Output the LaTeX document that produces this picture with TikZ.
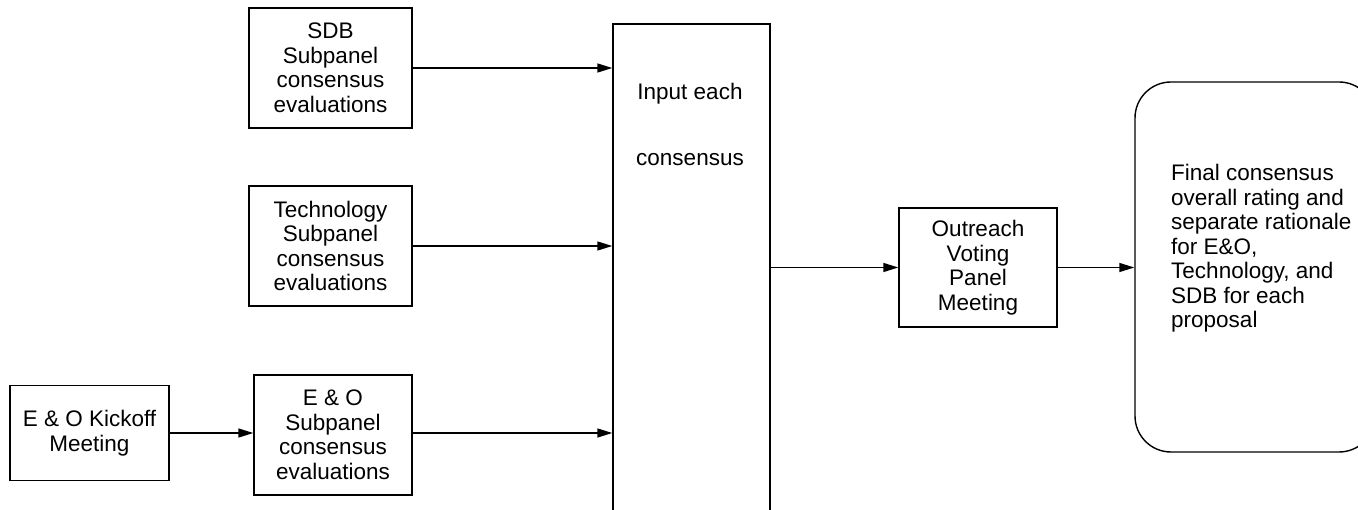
\documentclass[tikz,border=0pt]{standalone}
\usepackage{fontspec}
\setmainfont{Liberation Sans}
\usetikzlibrary{arrows.meta}
\begin{document}
\begin{tikzpicture}[x=1pt,y=-1pt,
  every node/.style={font=\fontsize{22.5}{24.5}\selectfont},
  box/.style={draw,line width=1.4pt,inner sep=0pt,align=center},
  conn/.style={line width=1.4pt,-{Triangle[length=15pt,width=9pt]}}]
\useasboundingbox (0,0) rectangle (1358,510);
\begin{scope}
\clip (0,0) rectangle (1358,510);
\node[box,minimum width=163pt,minimum height=120pt] (sdb) at (330.5,68) {SDB\\Subpanel\\consensus\\evaluations};
\node[box,minimum width=163pt,minimum height=120pt] (tech) at (330.5,246) {Technology\\Subpanel\\consensus\\evaluations};
\node[box,minimum width=158pt,minimum height=120pt] (eo) at (333,435) {E \& O\\Subpanel\\consensus\\evaluations};
\node[box,minimum width=159pt,minimum height=95pt] (kick) at (89.5,433) {E \& O Kickoff\\Meeting};
\node[box,minimum width=157pt,minimum height=516pt] (big) at (691.5,282) {};
\node (t1) at (690,94) {Input each};
\node (t2) at (690,160) {consensus};
\node[box,minimum width=158pt,minimum height=119pt] (out) at (978,267.5) {Outreach\\Voting\\Panel\\Meeting};
\node[box,rounded corners=36pt,minimum width=240pt,minimum height=370pt] (fin) at (1255,267) {};
\node[anchor=north west,align=left,inner sep=0pt] (ftxt) at (1171,164) {Final consensus\\overall rating and\\separate rationale\\for E\&O,\\Technology, and\\SDB for each\\proposal};
\draw[conn] (sdb.east) -- (sdb.east -| big.west);
\draw[conn] (tech.east) -- (tech.east -| big.west);
\draw[conn] (eo.east |- kick.east) -- (kick.east -| big.west);
\draw[conn] (kick.east) -- (kick.east -| eo.west);
\draw[conn] (big.east |- out.west) -- (out.west);
\draw[conn] (out.east) -- (out.east -| fin.west);
\end{scope}
\end{tikzpicture}
\end{document}
